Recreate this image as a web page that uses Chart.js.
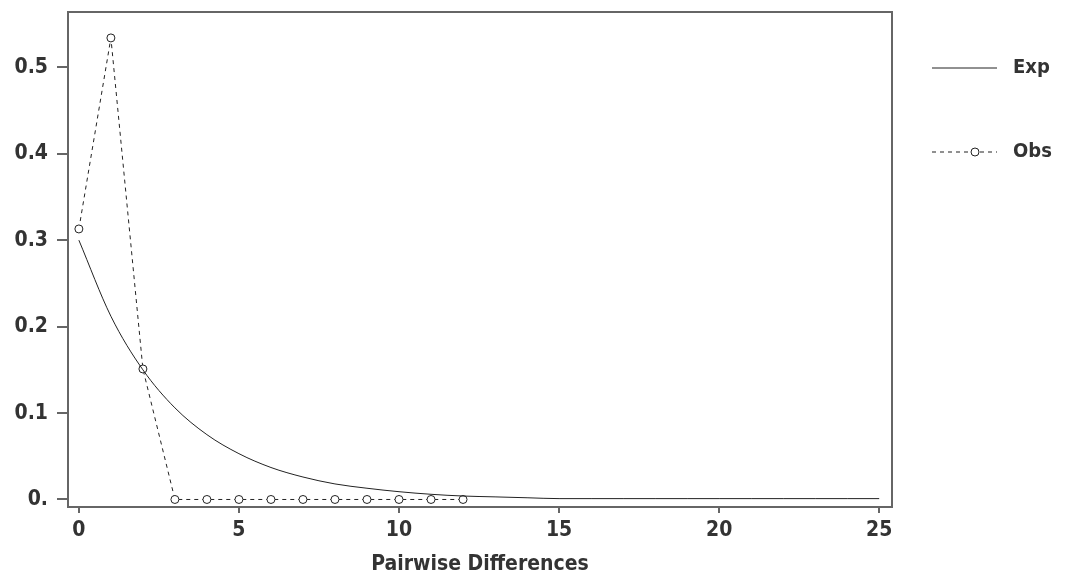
<!DOCTYPE html>
<html>
<head>
<meta charset="utf-8">
<script src="https://cdn.jsdelivr.net/npm/chart.js@4/dist/chart.umd.min.js"></script>
<style>
  html, body { margin: 0; padding: 0; background: #fff; }
  #wrap { width: 1068px; height: 581px; }
</style>
</head>
<body>
<div id="wrap"><canvas id="chart" width="1068" height="581"></canvas></div>
<script>
// values
const expX = [0, 1, 2, 3, 4, 5, 6, 7, 8, 9, 10, 11, 12, 13, 14, 15, 16, 17, 18, 19, 20, 21, 22, 23, 24, 25];
const expY = [0.300, 0.212, 0.150, 0.106, 0.075, 0.053, 0.037, 0.026, 0.018, 0.013, 0.009, 0.006, 0.004, 0.003, 0.002, 0.001, 0.001, 0.001, 0.001, 0.001, 0.001, 0.001, 0.001, 0.001, 0.001, 0.001];
const obsX = [0, 1, 2, 3, 4, 5, 6, 7, 8, 9, 10, 11, 12];
const obsY = [0.313, 0.534, 0.151, 0, 0, 0, 0, 0, 0, 0, 0, 0, 0];
const xTicks = [0, 5, 10, 15, 20, 25];
const yTicks = [0, 0.1, 0.2, 0.3, 0.4, 0.5];
const seriesNames = ['Exp', 'Obs'];
const xTitle = 'Pairwise Differences';

const fontFamily = '"Liberation Sans Narrow", "DejaVu Sans Condensed", Arial, sans-serif';
const labelFont = { family: fontFamily, size: 21, weight: 'bold' };
const textColor = '#333';
const axisColor = '#666';

const toPoints = (xs, ys) => xs.map((x, i) => ({ x: x, y: ys[i] }));

// box round the plot and the legend on the right
const frameAndLegend = {
    id: 'frameAndLegend',
    afterDraw(chart) {
        const ctx = chart.ctx;
        const a = chart.chartArea;
        ctx.save();
        ctx.strokeStyle = axisColor;
        ctx.lineWidth = 2;
        ctx.strokeRect(a.left, a.top, a.right - a.left, a.bottom - a.top);

        const rows = [{ y: 68, ds: chart.data.datasets[0] }, { y: 152, ds: chart.data.datasets[1] }];
        rows.forEach(r => {
            ctx.strokeStyle = '#222';
            ctx.lineWidth = 1;
            ctx.setLineDash(r.ds.borderDash || []);
            ctx.beginPath();
            ctx.moveTo(932, r.y);
            ctx.lineTo(997, r.y);
            ctx.stroke();
            ctx.setLineDash([]);
            if (r.ds.pointRadius > 0) {
                ctx.fillStyle = '#fff';
                ctx.beginPath();
                ctx.arc(975, r.y, 4, 0, Math.PI * 2);
                ctx.fill();
                ctx.stroke();
            }
            ctx.fillStyle = textColor;
            ctx.font = 'bold 20px ' + fontFamily;
            ctx.textBaseline = 'middle';
            ctx.fillText(r.ds.label, 1013, r.y);
        });
        ctx.restore();
    }
};

new Chart(document.getElementById('chart'), {
    type: 'line',
    data: {
        datasets: [{
            label: seriesNames[0],
            data: toPoints(expX, expY),
            borderColor: '#222',
            borderWidth: 1,
            pointRadius: 0,
            cubicInterpolationMode: 'monotone',
            fill: false
        }, {
            label: seriesNames[1],
            data: toPoints(obsX, obsY),
            borderColor: '#222',
            borderWidth: 1,
            borderDash: [4, 4],
            pointRadius: 4,
            pointBorderWidth: 1,
            pointBackgroundColor: '#fff',
            pointBorderColor: '#222',
            tension: 0,
            fill: false
        }]
    },
    options: {
        responsive: false,
        animation: false,
        layout: { padding: { top: 12, right: 176, left: 0, bottom: 0 } },
        plugins: {
            legend: { display: false },
            tooltip: { enabled: false }
        },
        scales: {
            x: {
                type: 'linear',
                min: -0.34,
                max: 25.4,
                afterBuildTicks: scale => { scale.ticks = xTicks.map(v => ({ value: v })); },
                afterFit: scale => { scale.height = 74; scale.paddingLeft = 0; scale.paddingRight = 0; },
                grid: { drawOnChartArea: false, tickLength: 6, color: axisColor, lineWidth: 2 },
                border: { display: false },
                ticks: { color: textColor, font: labelFont, padding: 5, maxRotation: 0 },
                title: { display: true, text: xTitle, color: textColor, font: { family: fontFamily, size: 21, weight: 'bold' }, padding: { top: 4 } }
            },
            y: {
                min: -0.0087,
                max: 0.564,
                afterBuildTicks: scale => { scale.ticks = yTicks.map(v => ({ value: v })); },
                afterFit: scale => { scale.width = 68; scale.paddingTop = 0; scale.paddingBottom = 0; },
                grid: { drawOnChartArea: false, tickLength: 11, color: axisColor, lineWidth: 2 },
                border: { display: false },
                ticks: {
                    color: textColor,
                    font: labelFont,
                    padding: 9,
                    callback: v => v === 0 ? '0.' : v.toFixed(1)
                }
            }
        }
    },
    plugins: [frameAndLegend]
});
</script>
</body>
</html>
